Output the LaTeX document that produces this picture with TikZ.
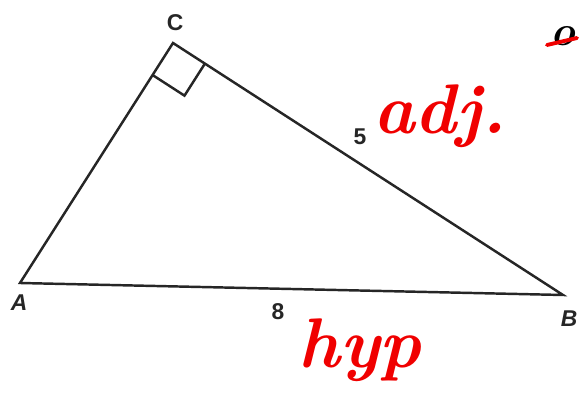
\documentclass[tikz,border=0pt]{standalone}
\usepackage{fontspec}
\usepackage{tikz}
\usetikzlibrary{calc}
\newfontfamily\labelfont{Liberation Sans}
\definecolor{pen}{RGB}{240, 0, 0}

\begin{document}
\begin{tikzpicture}[x=0.02cm, y=-0.02cm]
        % Styles
        \tikzset{side/.style={draw=black!85, line width=1.4pt, line join=miter}}
        \tikzset{vertex/.style={font=\labelfont\fontsize{13}{15}\selectfont\bfseries\itshape, text=black!85}}
        \tikzset{length/.style={font=\labelfont\fontsize{13}{15}\selectfont\bfseries, text=black!85}}
        \tikzset{note/.style={font=\fontsize{40}{40}\selectfont\bfseries\itshape, text=pen}}

        \useasboundingbox (0,0) rectangle (579,398);

        % Corners
        \coordinate (A) at (20,283);
        \coordinate (C) at (173,43);
        \coordinate (B) at (563,295);

        % Triangle
        \draw[side] (A) -- (C) -- (B) -- cycle;

        % Right angle
        \coordinate (ca) at ($(C)!0.76cm!(A)$);
        \coordinate (cb) at ($(C)!0.76cm!(B)$);
        \draw[side] (ca) -- ($(ca)+(cb)-(C)$) -- (cb);

        % Labels
        \node[length] (lc) at (175,23) {C};
        \node[vertex] (la) at (19,303) {A};
        \node[vertex] (lb) at (569,319) {B};
        \node[length] (l5) at (360,137) {5};
        \node[length] (l8) at (278,312) {8};

        % Notes
        \node[note] (adj) at (440,116) {adj.};
        \node[note] (hyp) at (360,350) {hyp};
        \node[font=\fontsize{24}{24}\selectfont\bfseries\itshape, inner sep=0pt] (opp) at (563,36) {o};
        \coordinate (s1) at (547,45);
        \coordinate (s2) at (577,38);
        \draw[pen, line width=2.2pt, line cap=round] (s1) -- (s2);
    \end{tikzpicture}
\end{document}
